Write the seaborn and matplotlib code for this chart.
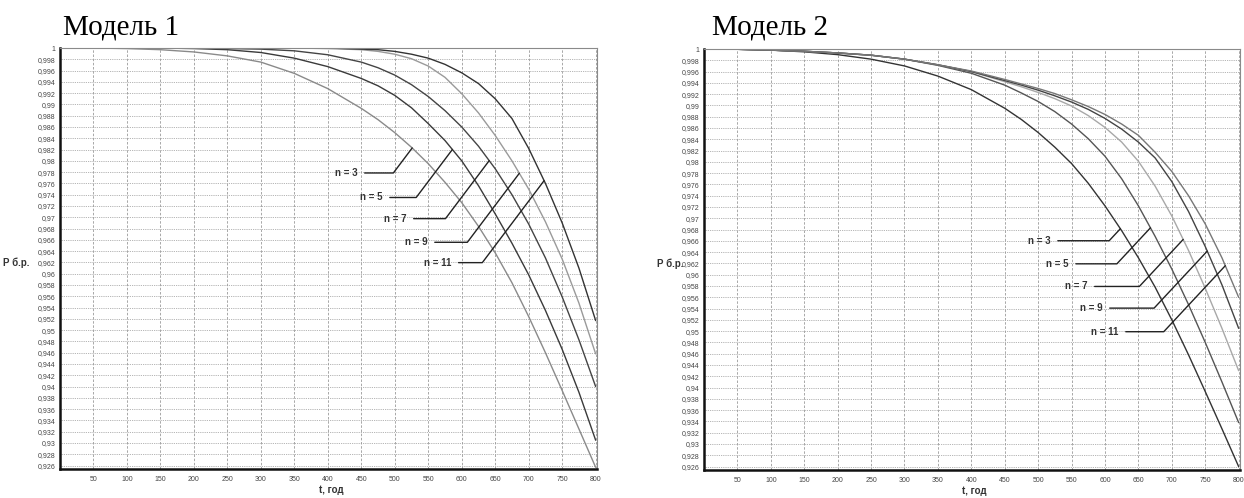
import numpy as np
import pandas as pd
import matplotlib
matplotlib.use("Agg")
import matplotlib.pyplot as plt
import seaborn as sns

# ---------------- data ----------------
t_years = [0, 50, 100, 150, 200, 250, 300, 350, 400, 450, 475, 500, 525, 550,
           575, 600, 625, 650, 675, 700, 725, 750, 775, 800]
n_labels = ["n = 3", "n = 5", "n = 7", "n = 9", "n = 11"]

model1_n3 = [1.0, 1.0, 0.9999, 0.9997, 0.9993, 0.9986, 0.9975, 0.9955, 0.9928, 0.9893, 0.9873, 0.9850,
             0.9824, 0.9795, 0.9762, 0.9726, 0.9684, 0.9637, 0.9584, 0.9524, 0.9460, 0.9393, 0.9325, 0.9257]
model1_n5 = [1.0, 1.0, 1.0, 1.0, 0.9999, 0.9997, 0.9992, 0.9982, 0.9967, 0.9946, 0.9933, 0.9916,
             0.9894, 0.9866, 0.9836, 0.9800, 0.9756, 0.9706, 0.9654, 0.9598, 0.9535, 0.9466, 0.9390, 0.9305]
model1_n7 = [1.0, 1.0, 1.0, 1.0, 1.0, 0.9999, 0.9998, 0.9995, 0.9988, 0.9975, 0.9965, 0.9952,
             0.9935, 0.9914, 0.9889, 0.9860, 0.9826, 0.9786, 0.9740, 0.9688, 0.9628, 0.9559, 0.9483, 0.9400]
model1_n9 = [1.0, 1.0, 1.0, 1.0, 1.0, 1.0, 1.0, 1.0, 0.9999, 0.9997, 0.9994, 0.9989,
             0.9981, 0.9968, 0.9948, 0.9919, 0.9885, 0.9845, 0.9800, 0.9750, 0.9692, 0.9626, 0.9548, 0.9458]
model1_n11 = [1.0, 1.0, 1.0, 1.0, 1.0, 1.0, 1.0, 1.0, 1.0, 0.9998, 0.9997, 0.9994,
              0.9989, 0.9982, 0.9971, 0.9956, 0.9937, 0.9910, 0.9875, 0.9822, 0.9760, 0.9690, 0.9610, 0.9517]

model2_n3 = [1.0, 0.99995, 0.9998, 0.9995, 0.9990, 0.9982, 0.9970, 0.9952, 0.9928, 0.9895, 0.9875, 0.9852,
             0.9826, 0.9797, 0.9762, 0.9722, 0.9678, 0.9630, 0.9578, 0.9520, 0.9458, 0.9393, 0.9327, 0.9260]
model2_n5 = [1.0, 0.99995, 0.9998, 0.9996, 0.9993, 0.9989, 0.9982, 0.9971, 0.9957, 0.9936, 0.9922, 0.9907,
             0.9889, 0.9867, 0.9841, 0.9810, 0.9770, 0.9722, 0.9668, 0.9610, 0.9547, 0.9480, 0.9410, 0.9338]
model2_n7 = [1.0, 0.99995, 0.9998, 0.9996, 0.9993, 0.9989, 0.9982, 0.9972, 0.9960, 0.9942, 0.9933, 0.9923,
             0.9912, 0.9899, 0.9882, 0.9861, 0.9835, 0.9801, 0.9757, 0.9704, 0.9643, 0.9576, 0.9505, 0.9430]
model2_n9 = [1.0, 0.99995, 0.9998, 0.9996, 0.9993, 0.9989, 0.9982, 0.9972, 0.9960, 0.9944, 0.9936, 0.9927,
             0.9917, 0.9906, 0.9893, 0.9877, 0.9858, 0.9835, 0.9807, 0.9765, 0.9712, 0.9650, 0.9582, 0.9505]
model2_n11 = [1.0, 0.99995, 0.9998, 0.9996, 0.9993, 0.9989, 0.9982, 0.9972, 0.9961, 0.9946, 0.9938, 0.9930,
              0.9921, 0.9910, 0.9898, 0.9884, 0.9867, 0.9847, 0.9817, 0.9783, 0.9740, 0.9690, 0.9630, 0.9560]

y_ticks = [round(0.926 + 0.002 * i, 3) for i in range(38)]
x_ticks = list(range(50, 801, 50))
titles = ["Модель 1", "Модель 2"]
x_label = "t, год"
y_label = "P б.р."

# ---------------- styling ----------------
sns.set_theme(style="white")
plt.rcParams["font.family"] = ["Liberation Sans", "DejaVu Sans"]

W, H = 1244, 498
fig = plt.figure(figsize=(W / 100, H / 100), dpi=100)
fig.patch.set_facecolor("white")


def fmt(v):
    s = f"{v:.3f}".rstrip("0").rstrip(".")
    return s.replace(".", ",")


def draw(ax, series, colors, label_t, offsets, angle, ylab_x):
    df = pd.DataFrame({
        "t": t_years * len(series),
        "P": [p for s in series for p in s],
        "n": [lab for lab in n_labels for _ in t_years],
    })
    sns.lineplot(data=df, x="t", y="P", hue="n", hue_order=n_labels,
                 palette=colors, legend=False, ax=ax, linewidth=1.0,
                 sort=False, estimator=None)
    ax.set_xlim(0, 802)
    ax.set_ylim(0.9254, 1.0)
    ax.set_xticks(x_ticks)
    ax.set_xticklabels([str(v) for v in x_ticks])
    ax.set_yticks(y_ticks)
    ax.set_yticklabels([fmt(v) for v in y_ticks])
    ax.tick_params(axis="both", length=2, width=0.6, color="#555555",
                   labelsize=5, labelcolor="#444444", pad=1.5)
    ax.tick_params(axis="x", pad=3)
    ax.xaxis.grid(True, color="#9a9a9a", linestyle=(0, (3, 2)), linewidth=0.6)
    ax.yaxis.grid(True, color="#9a9a9a", linestyle=(0, (1, 1.2)), linewidth=0.6)
    ax.set_axisbelow(True)
    for side in ("left", "bottom"):
        ax.spines[side].set_color("#111111")
        ax.spines[side].set_linewidth(1.8)
    for side in ("top", "right"):
        ax.spines[side].set_color("#8a8a8a")
        ax.spines[side].set_linewidth(0.8)
    ax.set_xlabel(x_label, fontsize=7, fontweight="bold", color="#333333")
    ax.xaxis.set_label_coords(0.505, -0.05)
    ax.xaxis.label.set_va("center")
    ax.set_ylabel(y_label, fontsize=7, fontweight="bold", color="#333333",
                  rotation=0, ha="right", va="center")
    ax.yaxis.set_label_coords(ylab_x, 0.49)

    for lab, s, tt, (dx, dy) in zip(n_labels, series, label_t, offsets):
        pt = float(np.interp(tt, t_years, s))
        ax.annotate(lab, xy=(tt, pt), xytext=(dx, dy), textcoords="offset pixels",
                    ha="right", va="center", fontsize=7, fontweight="bold",
                    color="#333333",
                    arrowprops=dict(arrowstyle="-", color="#222222", lw=1.0,
                                    shrinkA=3, shrinkB=0, relpos=(1, 0.5),
                                    connectionstyle=f"angle,angleA=0,angleB={angle},rad=0"))


ax1 = fig.add_axes([60 / W, 1 - 469 / H, 537 / W, 421 / H])
ax2 = fig.add_axes([704 / W, 1 - 470 / H, 536 / W, 421 / H])

draw(ax1,
     [model1_n3, model1_n5, model1_n7, model1_n9, model1_n11],
     ["#8a8a8a", "#3a3a3a", "#444444", "#9a9a9a", "#333333"],
     [526, 586, 641, 686, 723],
     [(-55, -25), (-70, -48), (-83, -58), (-92, -69), (-93, -82)],
     53, -0.056)

draw(ax2,
     [model2_n3, model2_n5, model2_n7, model2_n9, model2_n11],
     ["#333333", "#555555", "#a8a8a8", "#444444", "#777777"],
     [623, 668, 717, 753, 780],
     [(-70, -12), (-82, -36), (-96, -47), (-105, -57), (-107, -66)],
     47, -0.039)

fig.text(63 / W, 1 - 34 / H, titles[0], fontsize=21, family="Liberation Serif",
         ha="left", va="baseline", color="black")
fig.text(712 / W, 1 - 34 / H, titles[1], fontsize=21, family="Liberation Serif",
         ha="left", va="baseline", color="black")

fig.savefig("out.png", dpi=100, facecolor="white")
